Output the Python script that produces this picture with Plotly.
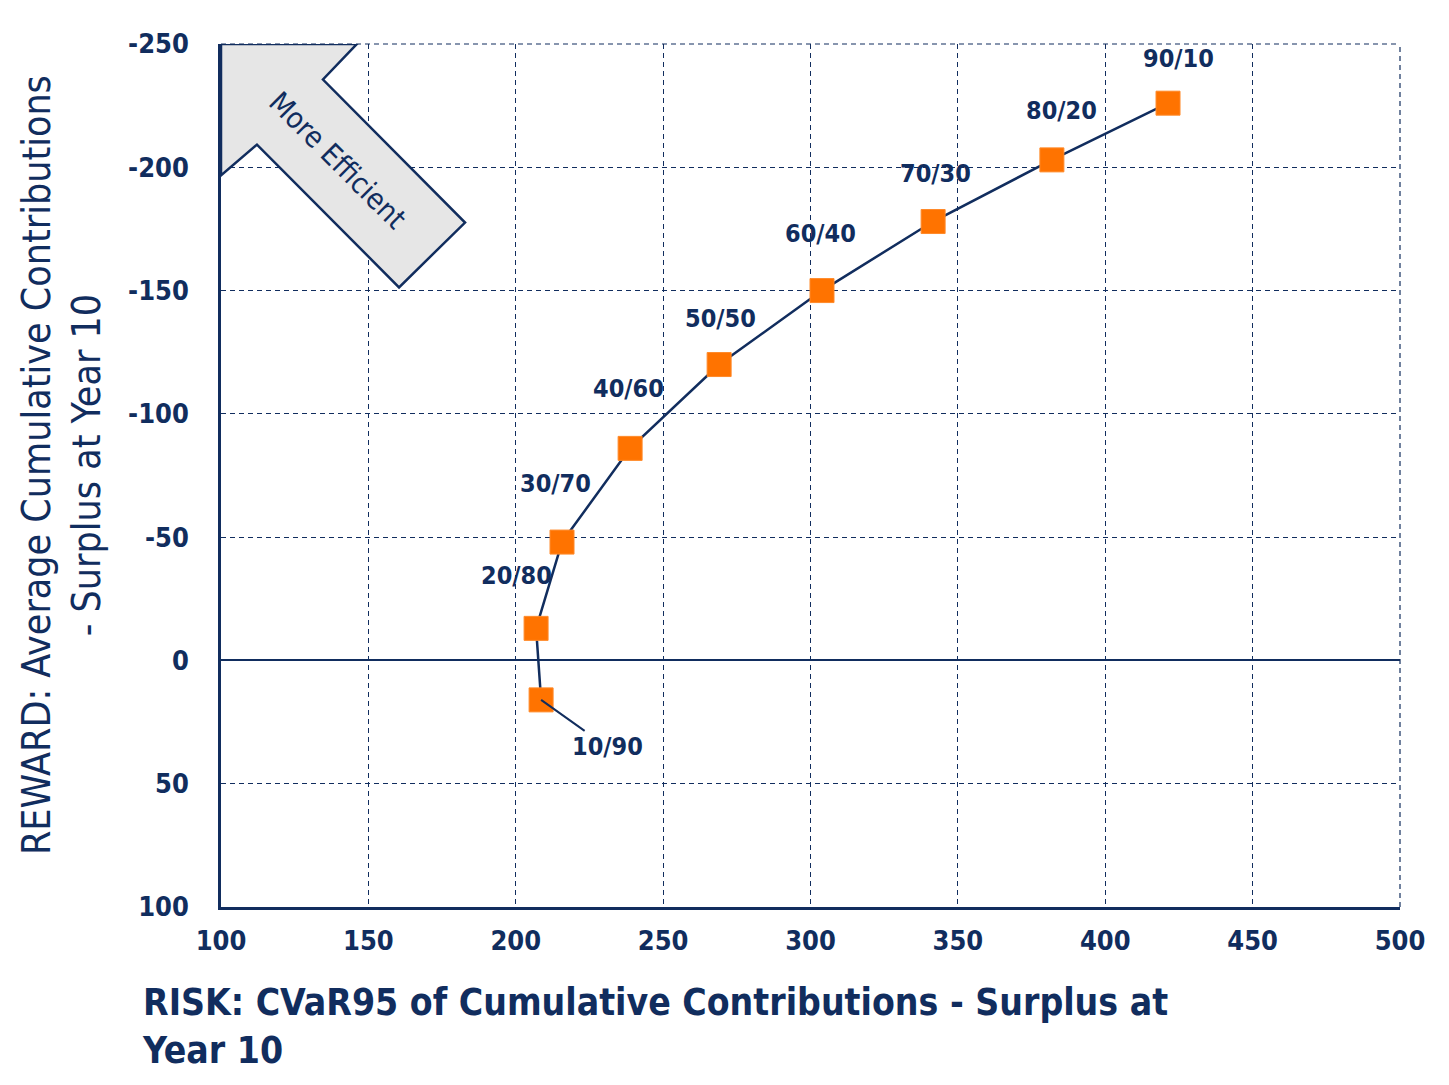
import plotly.graph_objects as go

# ---- data ----
labels = ["10/90", "20/80", "30/70", "40/60", "50/50", "60/40", "70/30", "80/20", "90/10"]
risk = [208.6, 206.9, 215.7, 238.8, 269.0, 303.9, 341.6, 381.9, 421.3]
reward = [16, -13, -48, -86, -120, -150, -178, -203, -226]

x_ticks = [100, 150, 200, 250, 300, 350, 400, 450, 500]
y_ticks = [-250, -200, -150, -100, -50, 0, 50, 100]

# label offsets in pixels (dx, dy upward)
label_dx = [66, -20, -7, -2, 1, -2, 2, 10, 10]
label_dy = [-47, 53, 59, 60, 46, 57, 48, 49, 45]

NAVY = "#112d5e"
ORANGE = "#ff7300"
FONT = "DejaVu Sans Condensed, DejaVu Sans, sans-serif"
GRID_DASH = "5px,4px"

fig = go.Figure()

# "More Efficient" arrow (decoration)
arrow_x = [100, 146.1, 134.6, 182.8, 160.4, 112.2, 100]
arrow_y = [-250, -250, -235.6, -177.6, -151.3, -209.2, -196.7]
path = "M " + " L ".join(f"{a},{b}" for a, b in zip(arrow_x, arrow_y)) + " Z"

# top and right dashed frame lines (continuation of grid)
fig.add_shape(type="line", xref="paper", yref="paper", x0=0, x1=1, y0=1, y1=1,
              line=dict(color=NAVY, width=1.2, dash=GRID_DASH), layer="below")
fig.add_shape(type="line", xref="paper", yref="paper", x0=1, x1=1, y0=0, y1=1,
              line=dict(color=NAVY, width=1.2, dash=GRID_DASH), layer="below")

fig.add_shape(type="path", path=path, xref="x", yref="y",
              fillcolor="#e6e6e6", line=dict(color=NAVY, width=2.5), layer="above")

fig.add_trace(go.Scatter(
    x=risk, y=reward, mode="lines+markers",
    line=dict(color=NAVY, width=2.5),
    marker=dict(symbol="square", size=24, color=ORANGE,
                line=dict(color="#ff8a2a", width=1)),
    hoverinfo="skip", showlegend=False, cliponaxis=False,
))

for i, (lab, xv, yv) in enumerate(zip(labels, risk, reward)):
    if i == 0:
        fig.add_annotation(x=xv, y=yv, xref="x", yref="y", text=lab,
                           showarrow=True, arrowhead=0, arrowwidth=2, arrowcolor=NAVY,
                           ax=label_dx[i], ay=-label_dy[i],
                           font=dict(family=FONT, size=25, color=NAVY, weight="bold"))
    else:
        fig.add_annotation(x=xv, y=yv, xref="x", yref="y", text=lab,
                           showarrow=False, xshift=label_dx[i], yshift=label_dy[i],
                           font=dict(family=FONT, size=25, color=NAVY, weight="bold"))

fig.add_annotation(x=139.4, y=-202.8, xref="x", yref="y", text="More Efficient",
                   showarrow=False, textangle=45,
                   font=dict(family=FONT, size=29, color=NAVY))

# axis titles
fig.add_annotation(xref="paper", yref="paper", x=-0.0687, y=-0.138,
                   xanchor="left", yanchor="middle", align="left",
                   text="RISK: CVaR95 of Cumulative Contributions - Surplus at<br>Year 10",
                   showarrow=False,
                   font=dict(family=FONT, size=37, color=NAVY, weight="bold"))
fig.add_annotation(xref="paper", yref="paper", x=-0.1349, y=0.512,
                   xanchor="center", yanchor="middle", align="center", textangle=-90,
                   text="REWARD: Average Cumulative Contributions<br>- Surplus at Year 10",
                   showarrow=False,
                   font=dict(family=FONT, size=39, color=NAVY))

fig.update_xaxes(range=[100, 500], tickvals=x_ticks, ticktext=[str(v) for v in x_ticks],
                 showgrid=True, gridcolor=NAVY, gridwidth=1.2, griddash=GRID_DASH,
                 showline=True, linecolor=NAVY, linewidth=2.5, zeroline=False,
                 ticks="", ticklabelstandoff=8,
                 tickfont=dict(family=FONT, size=27, color=NAVY, weight="bold"))
fig.update_yaxes(range=[100, -250], tickvals=y_ticks, ticktext=[str(v) for v in y_ticks],
                 showgrid=True, gridcolor=NAVY, gridwidth=1.2, griddash=GRID_DASH,
                 showline=True, linecolor=NAVY, linewidth=2.5,
                 zeroline=True, zerolinecolor=NAVY, zerolinewidth=2,
                 ticks="", ticklabelstandoff=24,
                 tickfont=dict(family=FONT, size=27, color=NAVY, weight="bold"))

fig.update_layout(
    width=1449, height=1085,
    margin=dict(l=221, r=49, t=44, b=178, autoexpand=False),
    plot_bgcolor="white", paper_bgcolor="white",
    font=dict(family=FONT, color=NAVY),
)

fig.write_html("out.html")
